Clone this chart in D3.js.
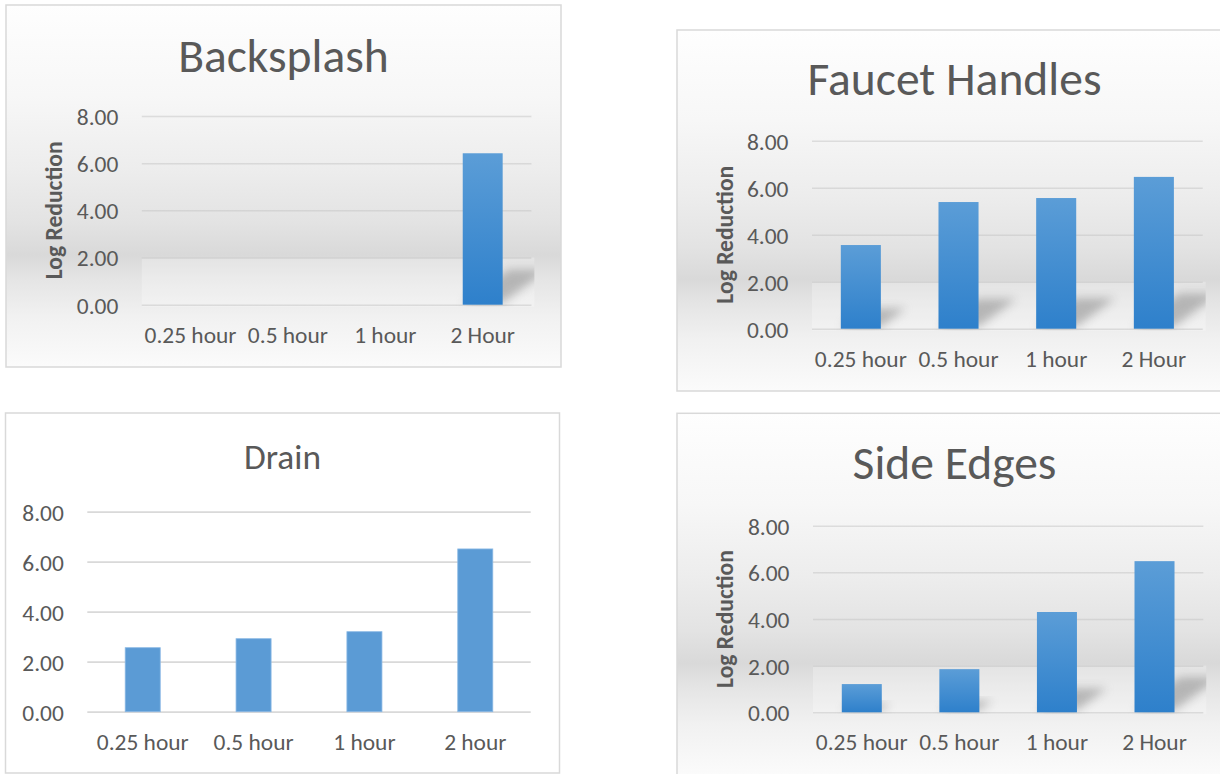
<!DOCTYPE html>
<html><head><meta charset="utf-8">
<script src="https://cdn.jsdelivr.net/npm/d3@7"></script>
<style>html,body{margin:0;padding:0;background:#fff;} svg{display:block;}</style>
</head><body>
<svg id="chart" width="1220" height="774"></svg>
<script>
// ---------- data ----------
const categories = ["0.25 hour", "0.5 hour", "1 hour", "2 Hour"];
const drainCategories = ["0.25 hour", "0.5 hour", "1 hour", "2 hour"];
const backsplashValues = [0, 0, 0, 6.42];
const faucetValues = [3.56, 5.39, 5.56, 6.46];
const drainValues = [2.56, 2.92, 3.20, 6.51];
const sideEdgeValues = [1.21, 1.85, 4.30, 6.48];
const yTickValues = [0, 2, 4, 6, 8];
const yAxisTitle = "Log Reduction";
const titles = ["Backsplash", "Faucet Handles", "Drain", "Side Edges"];

// ---------- setup ----------
const FONT = "Carlito, Calibri, Lato, sans-serif";
const TEXT = "#595959";
const svg = d3.select("#chart");
svg.append("rect").attr("width", 1220).attr("height", 774).attr("fill", "#fff");
const defs = svg.append("defs");

const bg = defs.append("linearGradient").attr("id", "chartBg").attr("x1", 0).attr("y1", 0).attr("x2", 0).attr("y2", 1);
[[0, "#fefefe"], [0.25, "#f7f7f7"], [0.45, "#ededed"], [0.60, "#e3e3e3"], [0.69, "#d9d9d9"],
 [0.76, "#e5e5e5"], [0.86, "#f1f1f1"], [1, "#fbfbfb"]]
  .forEach(([o, c]) => bg.append("stop").attr("offset", o).attr("stop-color", c));

const barG = defs.append("linearGradient").attr("id", "barGrad").attr("x1", 0).attr("y1", 0).attr("x2", 0).attr("y2", 1);
barG.append("stop").attr("offset", 0).attr("stop-color", "#5b9dd7");
barG.append("stop").attr("offset", 1).attr("stop-color", "#2e80cb");

defs.append("filter").attr("id", "shadowBlur").attr("x", "-50%").attr("y", "-50%").attr("width", "200%").attr("height", "200%")
  .append("feGaussianBlur").attr("stdDeviation", 5);

function measure(text, weight) {
  const t = svg.append("text").attr("font-family", FONT).attr("font-weight", weight)
    .attr("font-size", 100).text(text);
  const w = t.node().getComputedTextLength();
  t.remove();
  return w;
}
const labelSize = 100 * 92 / measure("0.25 hour", "normal");
const titleSize = 100 * 294 / measure("Faucet Handles", "normal");
const drainTitleSize = 100 * 77 / measure("Drain", "normal");
const yTitleSize = 100 * 138 / measure(yAxisTitle, "bold");

const panels = [
  { title: titles[0], cats: categories, values: backsplashValues, box: [6, 5, 555, 362],
    plot: [141.8, 531.4, 116, 304.7], styled: true, yTitle: true, titleY: 71.7, tSize: titleSize, pad: 0.59 },
  { title: titles[1], cats: categories, values: faucetValues, box: [677, 30, 555, 361],
    plot: [812, 1202.7, 140.7, 328.7], styled: true, yTitle: true, titleY: 94.5, tSize: titleSize, pad: 0.59 },
  { title: titles[2], cats: drainCategories, values: drainValues, box: [5.5, 413, 554, 360],
    plot: [87.3, 530.7, 511.7, 711.7], styled: false, yTitle: false, titleY: 469, tSize: drainTitleSize, pad: 0.684 },
  { title: titles[3], cats: categories, values: sideEdgeValues, box: [677, 413.3, 555, 362],
    plot: [813, 1203.3, 525.7, 712.3], styled: true, yTitle: true, titleY: 479.3, tSize: titleSize, pad: 0.59 }
];

panels.forEach((p, i) => {
  const [bx, by, bw, bh] = p.box;
  const [pl, pr, pt, pb] = p.plot;
  const g = svg.append("g");

  g.append("rect").attr("x", bx).attr("y", by).attr("width", bw).attr("height", bh)
    .attr("fill", p.styled ? "url(#chartBg)" : "#fff")
    .attr("stroke", "#d9d9d9").attr("stroke-width", 1.5);

  const x = d3.scaleBand().domain(p.cats).range([pl, pr]).paddingInner(p.pad).paddingOuter(p.pad / 2);
  const y = d3.scaleLinear().domain([0, 8]).range([pb, pt]);

  if (p.styled) {
    // lighter "floor" area where shadows are cast
    g.append("rect").attr("x", pl).attr("y", y(2)).attr("width", pr + 3 - pl).attr("height", y(0) + 2 - y(2))
      .attr("fill", "#fff").attr("opacity", 0.26);
    defs.append("clipPath").attr("id", "clip" + i).append("rect")
      .attr("x", pl).attr("y", y(2)).attr("width", pr + 3 - pl).attr("height", y(0) + 2 - y(2));
  }

  // y axis with gridlines
  const ya = g.append("g").attr("transform", `translate(${pl},0)`)
    .call(d3.axisLeft(y).tickValues(yTickValues).tickFormat(d3.format(".2f"))
      .tickSizeInner(-(pr - pl)).tickSizeOuter(0).tickPadding(23.5));
  ya.select(".domain").remove();
  ya.selectAll(".tick line")
    .attr("stroke", p.styled ? "#c4c4c4" : "#d9d9d9")
    .attr("stroke-opacity", p.styled ? 0.5 : 1)
    .attr("stroke-width", p.styled ? 1.5 : 1.75);
  ya.selectAll(".tick text").attr("fill", TEXT).attr("font-family", FONT)
    .attr("font-size", labelSize).attr("dy", "0.36em");
  ya.attr("font-family", FONT).attr("font-size", labelSize);

  // shadows
  if (p.styled) {
    const sg = g.append("g").attr("clip-path", `url(#clip${i})`);
    sg.selectAll("path").data(p.values.map((v, k) => ({ v, c: p.cats[k] })))
      .join("path")
      .attr("d", d => {
        const h = y(0) - y(d.v);
        const x0 = x(d.c), x1 = x(d.c) + x.bandwidth(), y0 = y(0) - 2;
        const dx = 0.3 * h, dy = 0.22 * h;
        return `M${x0},${y0}L${x1},${y0}L${x1 + dx},${y0 - dy}L${x0 + dx},${y0 - dy}Z`;
      })
      .attr("fill", "#808080").attr("opacity", d => d.v > 0 ? 0.5 : 0)
      .attr("filter", "url(#shadowBlur)");
  }

  // bars
  g.append("g").selectAll("rect").data(p.values.map((v, k) => ({ v, c: p.cats[k] })))
    .join("rect")
    .attr("x", d => x(d.c)).attr("width", x.bandwidth())
    .attr("y", d => y(d.v)).attr("height", d => y(0) - y(d.v))
    .attr("fill", p.styled ? "url(#barGrad)" : "#5b9bd5")
    .attr("stroke", p.styled ? "none" : "#8ab8e4").attr("stroke-width", p.styled ? 0 : 0.8);

  // x axis labels
  const xa = g.append("g").attr("transform", `translate(0,${pb})`)
    .call(d3.axisBottom(x).tickSize(0).tickPadding(0));
  xa.select(".domain").remove();
  xa.selectAll(".tick text").attr("fill", TEXT).attr("font-family", FONT)
    .attr("font-size", labelSize).attr("y", 38).attr("dy", 0);
  xa.attr("font-family", FONT).attr("font-size", labelSize);

  // title
  g.append("text").attr("x", bx + bw / 2).attr("y", p.titleY)
    .attr("text-anchor", "middle").attr("font-family", FONT).attr("font-size", p.tSize)
    .attr("fill", TEXT).text(p.title);

  // y axis title
  if (p.yTitle) {
    g.append("text").attr("transform", `translate(${bx + 55.7},${(pt + pb) / 2}) rotate(-90)`)
      .attr("text-anchor", "middle").attr("font-family", FONT).attr("font-weight", "bold")
      .attr("font-size", yTitleSize).attr("fill", TEXT).text(yAxisTitle);
  }
});
</script>
</body></html>
